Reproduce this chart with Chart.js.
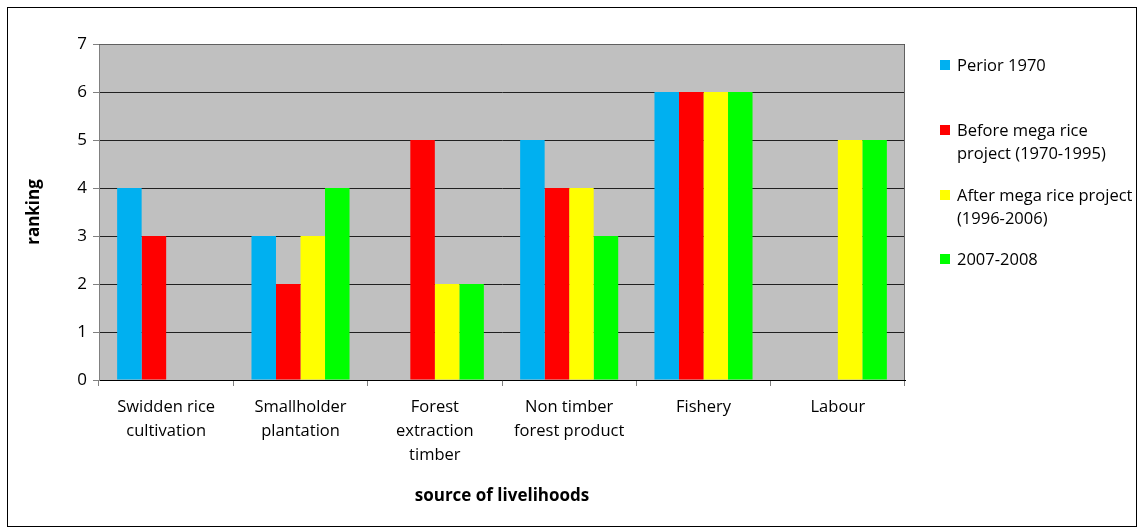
<!DOCTYPE html>
<html>
<head>
<meta charset="utf-8">
<script src="https://cdn.jsdelivr.net/npm/chart.js@4.4.1/dist/chart.umd.min.js"></script>
<style>
    body { margin: 0; background: #fff; font-family: "Open Sans", "Liberation Sans", sans-serif; }
    #wrap { position: relative; width: 1145px; height: 530px; }
    #frame { position: absolute; left: 7px; top: 7px; width: 1128px; height: 518px; border: 1px solid #000; pointer-events: none; }
    #legend { position: absolute; left: 940px; top: 53px; font-size: 16.5px; color: #000; }
    .legend__item { position: absolute; left: 0; white-space: nowrap; line-height: 23px; }
    .legend__box { position: absolute; left: 0; top: 7px; width: 10px; height: 10px; }
    .legend__text { position: absolute; left: 17px; top: 0; }
</style>
</head>
<body>
<div id="wrap">
    <canvas id="myChart" width="1145" height="530"></canvas>
    <div id="frame"></div>
    <div id="legend"></div>
</div>
<script>
let categories = [
    ["Swidden rice", "cultivation"],
    ["Smallholder", "plantation"],
    ["Forest", "extraction", "timber"],
    ["Non timber", "forest product"],
    ["Fishery"],
    ["Labour"]
];

let seriesNames = [
    ["Perior 1970"],
    ["Before mega rice", "project (1970-1995)"],
    ["After mega rice project", "(1996-2006)"],
    ["2007-2008"]
];
let seriesColors = ["#00B0F0", "#FF0000", "#FFFF00", "#00FF00"];

let perior1970 = [4, 3, null, 5, 6, null];
let beforeMegaRice = [3, 2, 5, 4, 6, null];
let afterMegaRice = [null, 3, 2, 4, 6, 5];
let recent = [null, 4, 2, 3, 6, 5];

let yTicks = [0, 1, 2, 3, 4, 5, 6, 7];

let seriesValues = [perior1970, beforeMegaRice, afterMegaRice, recent];

// grey plot background + border
let plotArea = {
    id: "plotArea",
    beforeDraw(chart) {
        let c = chart.ctx, a = chart.chartArea;
        c.save();
        c.fillStyle = "#C0C0C0";
        c.fillRect(a.left, a.top, a.right - a.left, a.bottom - a.top);
        c.restore();
    },
    afterDatasetsDraw(chart) {
        let c = chart.ctx, a = chart.chartArea;
        c.save();
        c.strokeStyle = "#606060";
        c.lineWidth = 1;
        c.beginPath();
        c.moveTo(a.left, a.top + 0.5);
        c.lineTo(a.right - 0.5, a.top + 0.5);
        c.lineTo(a.right - 0.5, a.bottom);
        c.stroke();
        c.restore();
    }
};

let ctx = document.getElementById("myChart").getContext("2d");
let myChart = new Chart(ctx, {
    type: "bar",
    data: {
        labels: categories,
        datasets: seriesValues.map((vals, i) => ({
            label: seriesNames[i].join(" "),
            data: vals,
            backgroundColor: seriesColors[i],
            borderWidth: 0,
            categoryPercentage: 0.73,
            barPercentage: 1
        }))
    },
    options: {
        responsive: false,
        animation: false,
        layout: { padding: { left: 0, right: 240, top: 44, bottom: 24 } },
        plugins: {
            legend: { display: false },
            tooltip: { enabled: false }
        },
        scales: {
            x: {
                afterFit: (scale) => { scale.height = 126; },
                grid: {
                    offset: true,
                    drawOnChartArea: false,
                    tickLength: 6,
                    tickColor: "#808080"
                },
                border: { color: "#000", width: 1 },
                ticks: {
                    color: "#000",
                    font: { family: "Open Sans", size: 16.5, lineHeight: 1.45 },
                    padding: 9,
                    maxRotation: 0
                },
                title: {
                    display: true,
                    text: "source of livelihoods",
                    color: "#000",
                    font: { family: "Open Sans", size: 17, weight: "bold" },
                    padding: { top: 0, bottom: 0 }
                }
            },
            y: {
                min: 0,
                max: 7,
                afterFit: (scale) => { scale.width = 99; },
                afterBuildTicks: (scale) => { scale.ticks = yTicks.map(v => ({ value: v })); },
                grid: {
                    color: "#202020",
                    tickLength: 6,
                    tickColor: "#808080"
                },
                border: { color: "#808080", width: 1 },
                ticks: {
                    color: "#000",
                    font: { family: "Open Sans", size: 17 },
                    padding: 6
                },
                title: {
                    display: true,
                    text: "ranking",
                    color: "#000",
                    font: { family: "Open Sans", size: 17, weight: "bold" },
                    padding: { top: 24, bottom: 0 }
                }
            }
        }
    },
    plugins: [plotArea]
});

// legend on the right, built from the series arrays
let legendBlock = document.querySelector("#legend");
let legendTops = [0, 65, 130, 194];
seriesNames.forEach((name, i) => {
    let item = document.createElement("div");
    item.classList.add("legend__item");
    item.style.top = legendTops[i] + "px";
    let box = document.createElement("div");
    box.classList.add("legend__box");
    box.style.background = seriesColors[i];
    item.append(box);
    let text = document.createElement("div");
    text.classList.add("legend__text");
    text.innerHTML = name.join("<br>");
    item.append(text);
    legendBlock.append(item);
});
</script>
</body>
</html>
